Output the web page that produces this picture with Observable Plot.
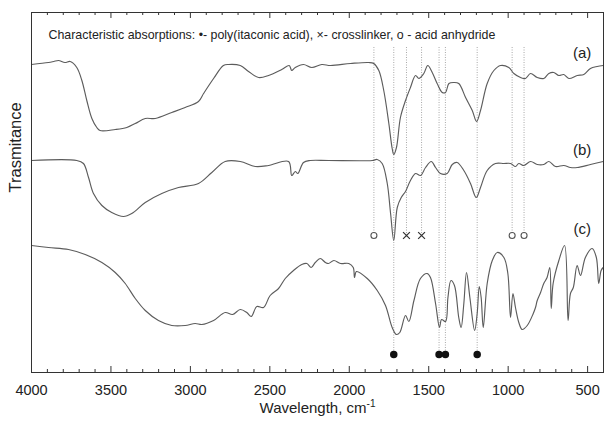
<!DOCTYPE html>
<html><head><meta charset="utf-8">
<script src="https://cdn.jsdelivr.net/npm/d3@7"></script>
<script src="https://cdn.jsdelivr.net/npm/@observablehq/plot@0.6"></script>
<style>html,body{margin:0;padding:0;background:#fff;} svg{display:block}</style>
</head><body><div id="chart"></div>
<script>
// Spectrum (a)
const wnA = [4000,3893,3860,3830,3790,3756,3715,3683,3652,3620,3589,3568,3473,3400,3347,3284,3221,3117,3033,2949,2917,2854,2792,2760,2686,2634,2571,2508,2425,2378,2362,2340,2288,2236,2173,2118,1992,1877,1846,1814,1783,1751,1730,1720,1703,1678,1646,1615,1583,1562,1531,1506,1478,1447,1415,1394,1373,1342,1311,1268,1226,1199,1174,1132,1090,1048,996,964,922,891,859,817,776,744,713,681,650,618,565,524,482,440,402];
const tA  = [308,310,311,312,310,311,305,292,272,254,245,242,243,245,249,254,254,260,265,271,279,294,307,308,307,301,295,297,303,307,302,305,308,305,308,307,309,310,309,302,282,249,224,218,225,255,272,285,297,294,299,307,300,289,280,280,289,290,289,275,262,251,262,289,302,307,305,299,295,294,299,295,294,299,300,297,298,294,297,298,304,306,307];
// Spectrum (b)
const wnB = [4000,3715,3673,3641,3610,3557,3495,3421,3369,3284,3180,3075,2949,2865,2781,2686,2592,2508,2382,2362,2340,2324,2288,2246,2131,1856,1824,1793,1761,1740,1720,1698,1673,1646,1615,1583,1552,1520,1484,1457,1426,1384,1352,1321,1279,1237,1201,1174,1132,1080,1027,985,954,933,901,859,817,776,744,702,650,608,565,482,402];
const tB  = [212,212,209,195,179,167,160,156,159,170,179,185,189,200,211,211,206,207,211,197,201,199,210,212,212,212,213,209,189,159,132,165,175,181,192,199,197,205,211,205,199,199,208,210,202,189,175,185,202,209,209,209,206,209,207,211,208,208,211,206,207,205,205,208,211];
// Spectrum (c)
const wnC = [4000,3893,3767,3662,3557,3473,3410,3347,3284,3201,3117,3033,2970,2928,2854,2781,2735,2686,2645,2617,2582,2540,2498,2445,2403,2351,2299,2267,2240,2214,2183,2150,2131,2097,2055,2003,1975,1967,1955,1887,1824,1772,1730,1703,1682,1646,1625,1593,1552,1510,1489,1457,1432,1419,1394,1379,1360,1338,1311,1296,1279,1262,1241,1211,1195,1182,1170,1157,1132,1100,1069,1027,1002,985,970,954,933,912,880,842,828,817,796,776,755,738,729,717,681,645,623,608,590,566,545,514,472,445,430,415,402];
const tC  = [127,125,123,118,110,100,89,74,62,52,47,47,49,48,52,60,58,63,60,56,66,65,77,84,94,102,108,109,105,110,114,110,109,112,109,109,105,95,101,94,82,67,45,38,40,57,51,72,94,99,95,69,45,53,51,75,92,87,55,45,69,100,75,42,59,86,75,45,89,112,120,115,99,55,79,65,50,43,47,59,65,72,80,89,95,105,64,89,112,127,52,79,85,107,97,115,124,115,89,102,105];

// Characteristic absorption positions (cm-1)
const piaPeaks = [1720, 1435, 1395, 1195];
const crosslinkerPeaks = [1640, 1545];
const anhydridePeaks = [1845, 975, 900];
const guideTop = 325;
const markerUpper = 137;
const markerLower = 18;

// Series labels
const seriesLabels = ["(a)", "(b)", "(c)"];
const labelLevel = [319, 222, 143];
const labelWn = 534;

// Axis ticks
const majorTicks = [4000, 3500, 3000, 2500, 2000, 1500, 1000, 500];
const minorTicks = d3.range(4000, 399, -100).filter(d => d % 500 !== 0);

const legendText = "Characteristic absorptions: \u2022- poly(itaconic acid), \u00d7- crosslinker, o - acid anhydride";

const toRows = (wn, t) => wn.map((w, i) => ({w, t: t[i]}));
const spectra = [toRows(wnA, tA), toRows(wnB, tB), toRows(wnC, tC)];

const lineStroke = "#5c5c5c";
const guideStyle = {stroke: "#a8a8a8", strokeWidth: 1, strokeDasharray: "1,1.5"};

const chart = Plot.plot({
  width: 606, height: 421,
  marginLeft: 31, marginRight: 3, marginTop: 12, marginBottom: 49,
  x: {domain: [4000, 400]},
  y: {domain: [0, 360], axis: null},
  style: {fontFamily: "'Liberation Sans', Arial, Helvetica, sans-serif", background: "#fff", color: "#222"},
  marks: [
    // guide lines
    Plot.ruleX(anhydridePeaks, {x: d => d, y1: guideTop, y2: markerUpper, ...guideStyle}),
    Plot.ruleX(crosslinkerPeaks, {x: d => d, y1: guideTop, y2: markerUpper, ...guideStyle}),
    Plot.ruleX(piaPeaks, {x: d => d, y1: guideTop, y2: markerLower, ...guideStyle}),
    // spectra
    ...spectra.map(s => Plot.line(s, {x: "w", y: "t", stroke: lineStroke, strokeWidth: 1.15, curve: "catmull-rom"})),
    // markers
    Plot.dot(anhydridePeaks, {x: d => d, y: () => markerUpper, r: 3, fill: "#fff", stroke: "#555", strokeWidth: 1.1}),
    Plot.dot(crosslinkerPeaks, {x: d => d, y: () => markerUpper, r: 3.2, symbol: "times", stroke: "#333", strokeWidth: 1.2}),
    Plot.dot(piaPeaks, {x: d => d, y: () => markerLower, r: 3, fill: "#111", stroke: "#111"}),
    // series labels
    Plot.text(seriesLabels, {x: () => labelWn, y: (d, i) => labelLevel[i], text: d => d, fontSize: 15, fill: "#222"}),
    // legend text
    Plot.text([legendText], {frameAnchor: "top-left", dx: 17, dy: 18, textAnchor: "start", fontSize: 12.4, fill: "#222"}),
    // frame and ticks
    Plot.frame({stroke: "#333", strokeWidth: 1}),
    Plot.tickX(majorTicks, {x: d => d, insetTop: 354, stroke: "#333"}),
    Plot.tickX(majorTicks, {x: d => d, insetBottom: 354, stroke: "#333"}),
    Plot.tickX(minorTicks, {x: d => d, insetTop: 357, stroke: "#333"}),
    Plot.tickX(minorTicks, {x: d => d, insetBottom: 357, stroke: "#333"}),
    Plot.axisX(majorTicks, {anchor: "bottom", tickSize: 0, tickPadding: 12, fontSize: 14.5, tickFormat: d => String(d), label: null}),
    // axis titles
    Plot.text(["Wavelength, cm"], {frameAnchor: "bottom", dy: 40, fontSize: 15, fill: "#222"}),
    Plot.text(["Trasmitance"], {frameAnchor: "left", dx: -16, rotate: -90, fontSize: 16.5, fill: "#222"})
  ]
});

d3.select(chart).selectAll("text")
  .filter(function() { return this.textContent === "Wavelength, cm"; })
  .append("tspan").attr("dy", "-0.55em").attr("font-size", "10").text("-1");

document.getElementById("chart").appendChild(chart);
</script>
</body></html>
